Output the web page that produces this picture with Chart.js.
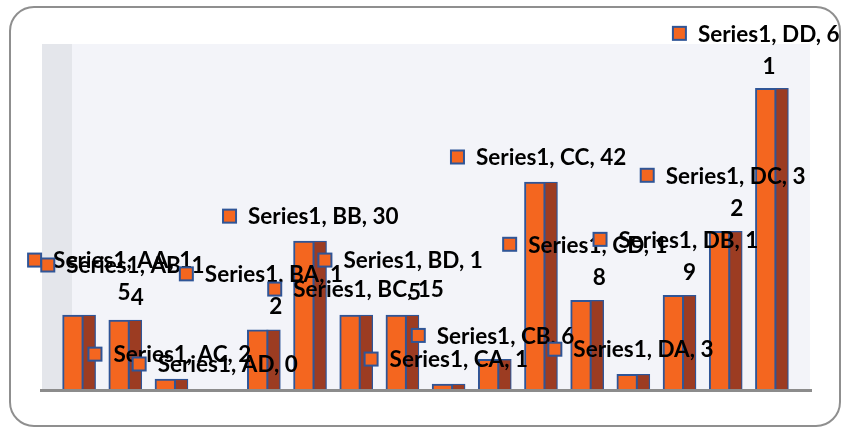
<!DOCTYPE html>
<html>
<head>
<meta charset="utf-8">
<script src="https://cdn.jsdelivr.net/npm/chart.js@4/dist/chart.umd.min.js"></script>
<style>
  html, body { margin: 0; padding: 0; background: #fff; }
  #wrap { width: 841px; height: 427px; }
</style>
</head>
<body>
<div id="wrap"><canvas id="chart"></canvas></div>
<script>
// Data
const seriesName = "Series1";
const categories = ["AA", "AB", "AC", "AD", "BA", "BB", "BC", "BD", "CA", "CB", "CC", "CD", "DA", "DB", "DC", "DD"];
const values = [15, 14, 2, 0, 12, 30, 15, 15, 1, 6, 42, 18, 3, 19, 32, 61];
const yMax = 70;

// Label placement (offset of the legend key from the bar's top centre)
const labelDx = [-52, -85, -84, -86, -85, -88, -89, -85, -85, -84, -91, -85, -86, -87, -86, -100];
const labelDy = [-55, -55, -25, -25, -56, -25, -26, -55, -25, -24, -25, -56, -25, -56, -56, -55];
const labelWrap = [true, true, false, false, true, false, false, true, false, false, false, true, false, true, true, true];

// Colours
const orange = "#f4661f";
const darkSide = "#9c3c22";
const blue = "#2f5597";
const font = "bold 22.5px Lato";

// Background, frame and wall
const backdrop = {
  id: "backdrop",
  beforeDraw(chart) {
    const { ctx, chartArea } = chart;
    ctx.save();
    ctx.fillStyle = "#ffffff";
    ctx.fillRect(0, 0, chart.width, chart.height);
    ctx.strokeStyle = "#8f8f8f";
    ctx.lineWidth = 2;
    ctx.beginPath();
    ctx.roundRect(10, 7, 830, 419, 24);
    ctx.stroke();
    ctx.fillStyle = "#f3f4f9";
    ctx.fillRect(42, chartArea.top, 768, chartArea.bottom - chartArea.top);
    ctx.fillStyle = "#e4e6eb";
    ctx.fillRect(42, chartArea.top, 30, chartArea.bottom - chartArea.top);
    ctx.restore();
  },
};

// Dark side of each bar, axis line and data labels
const sides = {
  id: "sides",
  afterDatasetsDraw(chart) {
    const { ctx, chartArea } = chart;
    const meta = chart.getDatasetMeta(0);
    ctx.save();
    meta.data.forEach((bar) => {
      if (bar.base - bar.y < 1) return;
      const right = bar.x + bar.width / 2 - 1;
      const split = bar.x + 3.5;
      ctx.fillStyle = darkSide;
      ctx.fillRect(split, bar.y + 1, right - split, bar.base - bar.y - 1);
      ctx.fillStyle = blue;
      ctx.fillRect(split - 1, bar.y, 2, bar.base - bar.y);
    });

    ctx.fillStyle = "#8c8c8c";
    ctx.fillRect(40, chartArea.bottom, 772, 3);

    ctx.font = font;
    ctx.textBaseline = "middle";
    meta.data.forEach((bar, i) => {
      const x = bar.x + labelDx[i];
      const y = bar.y + labelDy[i];
      ctx.fillStyle = orange;
      ctx.fillRect(x + 1, y - 6.5, 13, 13);
      ctx.strokeStyle = blue;
      ctx.lineWidth = 2;
      ctx.strokeRect(x + 1, y - 6.5, 13, 13);

      const full = `${seriesName}, ${categories[i]}, ${values[i]}`;
      const first = labelWrap[i] ? full.slice(0, -1) : full;
      ctx.fillStyle = "#000000";
      ctx.textAlign = "left";
      ctx.fillText(first, x + 26, y + 1);
      if (labelWrap[i]) {
        ctx.textAlign = "center";
        ctx.fillText(full.slice(-1), x + 97, y + 33);
      }
    });
    ctx.restore();
  },
};

const data = {
  labels: categories,
  datasets: [
    {
      label: seriesName,
      data: values,
      backgroundColor: orange,
      borderColor: blue,
      borderWidth: 2,
      barThickness: 33,
    },
  ],
};

const config = {
  type: "bar",
  data: data,
  options: {
    responsive: true,
    maintainAspectRatio: false,
    animation: false,
    layout: { padding: { left: 56, right: 46, top: 44, bottom: 38 } },
    scales: {
      x: { display: false, offset: true },
      y: { display: false, min: 0, max: yMax },
    },
    plugins: {
      legend: { display: false },
      tooltip: { enabled: false },
    },
  },
  plugins: [backdrop, sides],
};

const myChart = new Chart(document.querySelector("#chart"), config);
</script>
</body>
</html>
